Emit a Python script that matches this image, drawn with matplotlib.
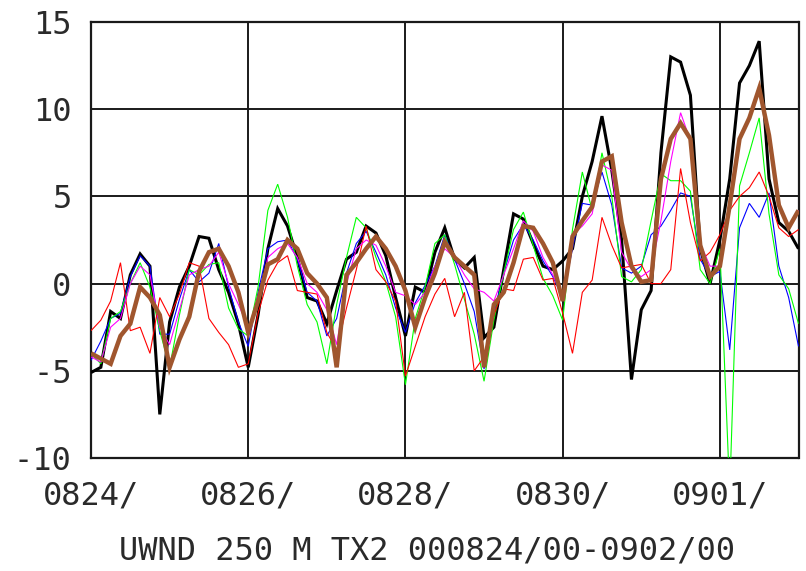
import numpy as np
import matplotlib
matplotlib.use("Agg")
import matplotlib.pyplot as plt

# 3-hourly samples from 0824/00 to 0902/00 (days since 0824/00)
n_steps = 73
step_days = 0.125

black = [
    -5.1, -4.8, -1.6, -2.0, 0.5, 1.7, 1.0, -7.5, -2.2, -0.2,
    1.0, 2.7, 2.6, 0.8, -0.5, -2.3, -4.8, -1.8, 2.0, 4.3,
    3.3, 1.5, -0.8, -1.0, -2.3, -0.4, 1.4, 1.8, 3.3, 2.9,
    1.6, -0.8, -3.0, -0.2, -0.5, 1.8, 3.2, 1.4, 0.9, 1.5,
    -3.1, -2.5, 0.8, 4.0, 3.7, 2.3, 1.0, 0.8, 1.3, 2.0,
    5.0, 7.0, 9.6, 6.5, 2.5, -5.5, -1.5, -0.4, 7.5, 13.0,
    12.7, 10.8, 2.0, 0.0, 2.5, 6.0, 11.5, 12.5, 13.9, 6.0,
    3.5, 3.0, 2.0,
]

blue = [
    -4.4, -3.3, -2.0, -1.7, 0.4, 1.6, 1.0, -2.9, -2.9, -0.9,
    0.8, 0.1, 0.6, 2.3, -0.2, -2.2, -3.6, -0.5, 2.0, 2.4,
    2.5, 1.4, -0.5, -1.0, -3.0, -2.0, 0.6, 2.3, 3.0, 1.8,
    0.5, -1.4, -2.8, -1.1, -0.1, 1.0, 2.8, 1.4, 0.0, -1.6,
    -4.9, -1.7, 0.6, 2.5, 3.4, 2.5, 1.3, 0.4, -0.8, 2.0,
    4.6, 4.5, 6.4, 4.5, 0.9, 0.6, 1.0, 2.8, 3.3, 4.2,
    5.2, 5.0, 1.4, 0.4, 0.7, -3.8, 3.2, 4.6, 3.8, 5.2,
    1.0, -0.8, -3.6,
]

green = [
    -4.0, -4.6, -2.0, -1.6, 0.0, 1.2, -0.2, -2.7, -4.8, -1.8,
    0.8, 0.5, 1.1, 1.2, -1.4, -2.6, -3.0, -0.2, 4.2, 5.7,
    3.8, 1.0, -1.2, -2.2, -4.6, -1.2, 1.5, 3.8, 3.2, 1.5,
    0.1, -1.9, -5.8, -2.0, -0.2, 2.3, 2.8, 1.1, -0.9, -2.9,
    -5.6, -2.1, 0.6, 3.1, 4.1, 2.2, 0.3, -0.7, -2.1, 3.1,
    6.4, 4.2, 7.5, 5.0, 0.4, 0.1, 0.8, 3.6, 6.3, 5.9,
    5.9, 5.3, 0.8, 0.0, 2.0, -12.0, 5.6, 7.5, 9.5, 4.0,
    0.5, -0.3, -2.3,
]

red = [
    -2.7, -2.1, -1.0, 1.2, -2.7, -2.5, -4.0, -0.8, -1.9, -0.6,
    1.2, 1.0, -2.0, -2.8, -3.5, -4.8, -4.6, -1.7, 0.2, 1.2,
    1.6, -0.4, -0.5, -0.6, -2.8, -3.8, -1.4, 0.8, 3.3, 0.8,
    0.1, -1.0, -5.3, -3.6, -1.9, -0.6, 0.3, -1.9, -0.5, -5.0,
    -4.2, -1.8, -0.3, -0.4, 1.4, 1.5, 0.2, 0.3, -1.7, -4.0,
    -0.5, 0.2, 3.8, 2.2, 0.9, 1.0, 1.1, 0.0, 0.0, 0.8,
    6.6, 3.5, 1.3, 1.8, 2.8, 4.2, 5.0, 5.5, 6.4, 5.0,
    3.2, 2.7, 3.1,
]

magenta = [
    -4.2, -4.5, -2.5, -2.0, 0.0, 1.0, 0.5, -2.5, -3.5, -1.5,
    0.5, 0.8, 1.0, 1.8, 0.0, -1.2, -2.5, -1.0, 1.5, 2.0,
    2.3, 1.5, 0.0, -0.5, -1.5, -3.5, 0.0, 2.0, 2.5, 2.2,
    1.0, -0.5, -0.7, -1.2, -0.5, 1.0, 2.0, 1.5, 0.5, -0.3,
    -0.5, -1.0, 0.5, 2.0, 3.6, 3.0, 1.5, 0.5, -0.8, 2.8,
    3.3, 4.0, 6.8, 6.5, 1.8, 0.8, 0.4, 0.8, 3.6, 7.0,
    9.8, 8.2, 2.3, 1.0, 1.0, 4.5, 8.3, 9.5, 11.2, 8.5,
    4.5, 3.2, 4.2,
]

brown = [
    -4.0, -4.3, -4.6, -3.0, -2.3, -0.2, -0.8, -1.8, -4.8, -3.2,
    -1.9, 0.7, 1.8, 2.0, 1.0, -0.5, -2.8, -1.0, 1.1, 1.4,
    2.5, 2.0, 0.6, 0.0, -0.8, -4.8, 0.5, 1.2, 2.0, 2.7,
    2.0, 1.0, -0.4, -2.5, -0.8, 0.6, 2.4, 1.5, 1.0, 0.5,
    -4.8, -1.2, -0.5, 1.2, 3.3, 3.2, 2.3, 1.2, -1.0, 2.7,
    3.6, 4.4, 7.0, 7.3, 3.5, 1.0, 0.1, 0.2, 6.0, 8.3,
    9.2, 8.3, 2.2, 0.4, 1.0, 4.5, 8.3, 9.5, 11.2, 8.5,
    4.5, 3.2, 4.2,
]

x_tick_days = [0, 2, 4, 6, 8]
x_tick_labels = ["0824/", "0826/", "0828/", "0830/", "0901/"]
y_ticks = [-10, -5, 0, 5, 10, 15]
y_tick_labels = ["-10", "-5", "0", "5", "10", "15"]
title = "UWND 250 M TX2 000824/00-0902/00"

t = np.arange(n_steps) * step_days

W, H = 806, 571
fig = plt.figure(figsize=(W / 100, H / 100), dpi=100)
ax = fig.add_axes([91 / W, 1 - 458 / H, 707.5 / W, 436 / H])

font = "DejaVu Sans Mono"
fs = 23

series = [
    (black, "black", 2.2),
    (blue, "#0000ff", 0.8),
    (green, "#00ff00", 0.8),
    (red, "#ff0000", 0.8),
    (magenta, "#ff00ff", 0.8),
    (brown, "#a0562e", 3.2),
]
for z, (vals, col, lw) in enumerate(series):
    ax.plot(t, vals, color=col, lw=lw, zorder=3 + z,
            solid_joinstyle="miter", solid_capstyle="butt")

ax.set_xlim(0, 9)
ax.set_ylim(-10, 15)
ax.set_xticks(x_tick_days)
ax.set_xticklabels(x_tick_labels, fontfamily=font, fontsize=fs, color="#2a2a2a")
ax.set_yticks(y_ticks)
ax.set_yticklabels(y_tick_labels, fontfamily=font, fontsize=fs, color="#2a2a2a")
ax.tick_params(axis="both", length=0)
ax.tick_params(axis="y", pad=14)
ax.tick_params(axis="x", pad=16)
ax.grid(True, color="#1a1a1a", lw=1.4, zorder=1)
for sp in ax.spines.values():
    sp.set_color("#1a1a1a")
    sp.set_linewidth(1.6)

fig.text(427 / W, 1 - 551 / H, title, ha="center", va="center",
         fontfamily=font, fontsize=fs, color="#2a2a2a")

fig.savefig("out.png", dpi=100)
